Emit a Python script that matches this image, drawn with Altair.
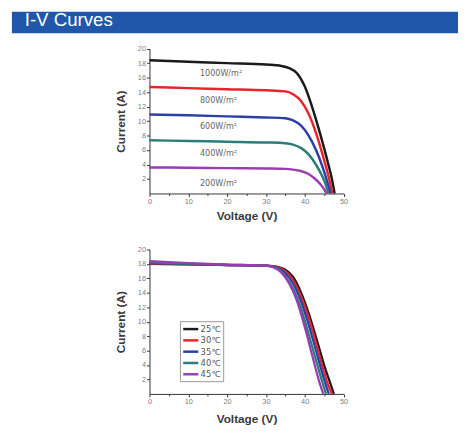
import altair as alt
import pandas as pd

# ---------------- data ----------------
irr_names = ["1000W/m²", "800W/m²", "600W/m²", "400W/m²", "200W/m²"]
irr_colors = ["#1a1a1a", "#e8242c", "#2b3fa6", "#2a7d78", "#9a3db3"]

irr_v = [
    [0, 10, 20, 30, 34, 36, 38, 40, 42, 44, 46, 47, 47.7],
    [0, 10, 20, 30, 35, 37, 39, 41, 43, 45, 46.3, 47.1],
    [0, 10, 20, 30, 35, 37, 39, 41, 43, 44.5, 45.8, 46.6],
    [0, 10, 20, 30, 35, 37, 39, 41, 43, 44.5, 45.5, 46.1],
    [0, 10, 20, 30, 35, 37, 39, 41, 42.5, 44, 45, 45.6],
]
irr_i = [
    [18.4, 18.2, 18.0, 17.8, 17.6, 17.3, 16.6, 14.8, 11.8, 8.2, 4.2, 2.0, 0],
    [14.7, 14.55, 14.4, 14.25, 14.1, 13.7, 12.8, 11.0, 8.2, 4.6, 2.0, 0],
    [10.9, 10.8, 10.65, 10.5, 10.4, 10.1, 9.4, 8.0, 5.9, 3.8, 1.6, 0],
    [7.35, 7.25, 7.15, 7.05, 6.95, 6.75, 6.3, 5.4, 3.9, 2.4, 1.1, 0],
    [3.6, 3.55, 3.5, 3.45, 3.4, 3.3, 3.1, 2.7, 2.1, 1.3, 0.6, 0],
]
label_v = [13.0, 13.0, 13.0, 13.0, 13.0]
label_i = [16.5, 12.75, 9.2, 5.4, 1.3]

temp_names = ["25℃", "30℃", "35℃", "40℃", "45℃"]
temp_colors = ["#1a1a1a", "#e8242c", "#2b3fa6", "#2a7d78", "#9a3db3"]
temp_v = [
    [0, 10, 20, 30, 33, 35, 37, 39, 41, 43, 45, 46.5, 47.5],
    [0, 10, 20, 30, 33, 35, 37, 39, 41, 43, 45, 46.2, 47.0],
    [0, 10, 20, 30, 33, 35, 37, 39, 41, 43, 45, 46.2],
    [0, 10, 20, 30, 33, 35, 37, 39, 41, 43, 44.5, 45.5],
    [0, 10, 20, 30, 32, 34, 36, 38, 40, 42, 43.8, 44.8],
]
temp_i = [
    [18.0, 17.95, 17.85, 17.75, 17.6, 17.2, 16.2, 14.1, 11.2, 7.7, 4.0, 1.6, 0],
    [18.05, 17.95, 17.85, 17.75, 17.55, 17.0, 15.8, 13.6, 10.6, 6.9, 3.0, 1.0, 0],
    [18.1, 18.0, 17.85, 17.75, 17.45, 16.7, 15.3, 12.9, 9.6, 5.8, 2.0, 0],
    [18.2, 18.05, 17.9, 17.75, 17.35, 16.3, 14.6, 11.9, 8.3, 4.5, 1.7, 0],
    [18.4, 18.1, 17.9, 17.75, 17.5, 16.8, 15.3, 12.9, 9.3, 5.2, 1.6, 0],
]

x_ticks = [0, 10, 20, 30, 40, 50]
x_minor = [5, 15, 25, 35, 45]
y_ticks = [2, 4, 6, 8, 10, 12, 14, 16, 18, 20]
title_text = "I-V Curves"

# ---------------- tables ----------------
rows = []
for k, (n, vs, cs) in enumerate(zip(irr_names, irr_v, irr_i)):
    for j, (v, c) in enumerate(zip(vs, cs)):
        rows.append({"series": n, "order": k, "idx": j, "V": v, "I": c})
irr_df = pd.DataFrame(rows)
lab_df = pd.DataFrame({"label": irr_names, "V": label_v, "I": label_i})

rows = []
for k, (n, vs, cs) in enumerate(zip(temp_names, temp_v, temp_i)):
    for j, (v, c) in enumerate(zip(vs, cs)):
        rows.append({"series": n, "order": k, "idx": j, "V": v, "I": c})
temp_df = pd.DataFrame(rows)

one = pd.DataFrame({"t": [title_text]})

# ---------------- geometry (group coords; group origin at page 8,8) ----------------
W, H = 458, 426
XR = [144, 341.5]
YR_TOP = [185, 37.6]
YR_BOT = [389, 242]

FONT = "Liberation Sans"
TITLE_COLOR = "#3a3a3a"


def x_axis(offset, values, labels=True, title="Voltage (V)", tick=3, tpad=6):
    if labels:
        return alt.Axis(orient="bottom", offset=offset, values=values, grid=False,
                        labelFlush=False, labelFontSize=7.5, labelColor="#808080",
                        labelFont=FONT, labelPadding=1, tickSize=tick, tickColor="#333",
                        domainColor="#333", title=title, titleFont=FONT,
                        titleFontSize=12, titleFontWeight="bold", titleColor=TITLE_COLOR,
                        titlePadding=tpad)
    return alt.Axis(orient="bottom", offset=offset, values=values, grid=False,
                    labels=False, domain=False, tickSize=tick, tickColor="#333",
                    title=None)


def y_axis():
    return alt.Axis(orient="left", offset=-144, values=y_ticks, grid=False,
                    labelFontSize=7.5, labelColor="#808080", labelFont=FONT,
                    labelPadding=1, tickSize=3, tickColor="#333", domainColor="#333",
                    title="Current (A)", titleFont=FONT, titleFontSize=12,
                    titleFontWeight="bold", titleColor=TITLE_COLOR, titlePadding=10)


header_rect = alt.Chart(one).mark_rect(color="#2057aa").encode(
    x=alt.value(4), x2=alt.value(458), y=alt.value(0), y2=alt.value(22))
header_text = alt.Chart(one).mark_text(
    align="left", baseline="middle", fontSize=19, font=FONT, color="white"
).encode(x=alt.value(17), y=alt.value(8.5), text="t:N")

top_lines = alt.Chart(irr_df).mark_line(strokeWidth=2.5, interpolate="monotone").encode(
    x=alt.X("V:Q", scale=alt.Scale(domain=[0, 50], range=XR, nice=False, zero=False),
            axis=x_axis(185 - H, x_ticks)),
    y=alt.Y("I:Q", scale=alt.Scale(domain=[0, 20], range=YR_TOP, nice=False, zero=False),
            axis=y_axis()),
    color=alt.Color("series:N", scale=alt.Scale(domain=irr_names, range=irr_colors), legend=None),
    detail="order:O",
    order="idx:Q",
)
top_minor = alt.Chart(irr_df).mark_point(opacity=0).encode(
    x=alt.X("V:Q", scale=alt.Scale(domain=[0, 50], range=XR, nice=False, zero=False),
            axis=x_axis(185 - H, x_minor, labels=False, tick=2)),
    y=alt.Y("I:Q", scale=alt.Scale(domain=[0, 20], range=YR_TOP, nice=False, zero=False),
            axis=None),
)
top_labels = alt.Chart(lab_df).mark_text(
    align="left", baseline="middle", fontSize=8.2, font="DejaVu Sans", color="#666"
).encode(
    x=alt.X("V:Q", scale=alt.Scale(domain=[0, 50], range=XR, nice=False, zero=False), axis=None),
    y=alt.Y("I:Q", scale=alt.Scale(domain=[0, 20], range=YR_TOP, nice=False, zero=False), axis=None),
    text="label:N",
)

bot_lines = alt.Chart(temp_df).mark_line(strokeWidth=2.3, interpolate="monotone").encode(
    x=alt.X("V:Q", scale=alt.Scale(domain=[0, 50], range=XR, nice=False, zero=False),
            axis=x_axis(389 - H, x_ticks, tpad=9)),
    y=alt.Y("I:Q", scale=alt.Scale(domain=[0, 20], range=YR_BOT, nice=False, zero=False),
            axis=y_axis()),
    color=alt.Color("series:N", scale=alt.Scale(domain=temp_names, range=temp_colors),
                    legend=alt.Legend(orient="none", legendX=175, legendY=315, title=None,
                                      symbolType="M-1.7,0H1.7", symbolSize=81,
                                      symbolStrokeWidth=2.5, symbolOffset=3, rowPadding=0.5,
                                      labelFontSize=8.5, labelColor="#555", labelFont="DejaVu Sans",
                                      labelOffset=4, padding=2, strokeColor="#999",
                                      fillColor="white", labelLimit=60)),
    detail="order:O",
    order="idx:Q",
)
bot_minor = alt.Chart(temp_df).mark_point(opacity=0).encode(
    x=alt.X("V:Q", scale=alt.Scale(domain=[0, 50], range=XR, nice=False, zero=False),
            axis=x_axis(389 - H, x_minor, labels=False, tick=2)),
    y=alt.Y("I:Q", scale=alt.Scale(domain=[0, 20], range=YR_BOT, nice=False, zero=False),
            axis=None),
)

chart = alt.layer(
    header_rect, header_text, top_lines, top_minor, top_labels, bot_lines, bot_minor
).resolve_scale(
    x="independent", y="independent", color="independent"
).resolve_axis(
    x="independent", y="independent"
).properties(
    width=W, height=H, autosize=alt.AutoSizeParams(type="none"), padding=0,
    background="white"
).configure_view(stroke=None)

chart.save("out.html", embed_options={"renderer": "svg", "actions": False})
